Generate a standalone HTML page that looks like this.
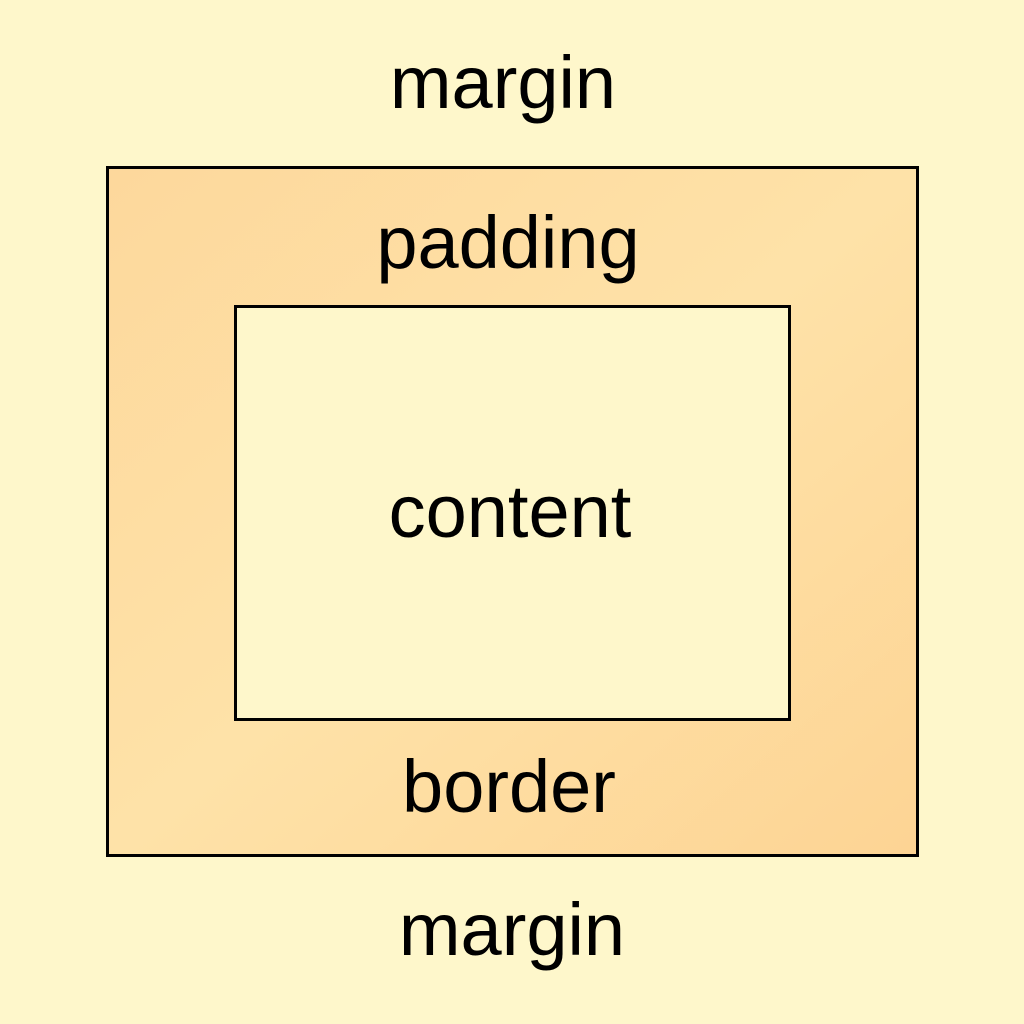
<!DOCTYPE html>
<html><head><meta charset="utf-8"><style>
html,body{margin:0;padding:0;background:#FEF7CB;}
svg{display:block;}
text{font-family:"Liberation Sans",sans-serif;font-size:74px;fill:#000;text-anchor:middle;}
</style></head><body>
<svg width="1024" height="1024" viewBox="0 0 1024 1024">
<defs>
<linearGradient id="g" x1="0" y1="0" x2="1" y2="1">
<stop offset="0" stop-color="#FDD89C"/>
<stop offset="0.5" stop-color="#FEE2A8"/>
<stop offset="1" stop-color="#FDD494"/>
</linearGradient>
</defs>
<rect x="0" y="0" width="1024" height="1024" fill="#FEF7CB"/>
<rect x="107.5" y="167.5" width="810" height="688" fill="url(#g)" stroke="#000" stroke-width="3"/>
<rect x="235.5" y="306.5" width="554" height="413" fill="#FEF7CB" stroke="#000" stroke-width="3"/>
<text x="503" y="108">margin</text>
<text x="508" y="268">padding</text>
<text x="510" y="537">content</text>
<text x="509" y="812">border</text>
<text x="512" y="955">margin</text>
</svg>
</body></html>
